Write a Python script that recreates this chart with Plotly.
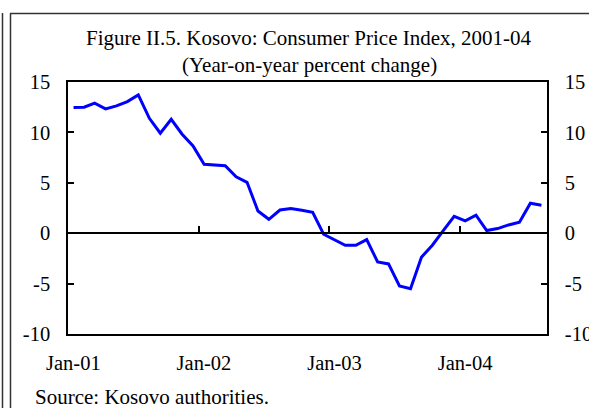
import plotly.graph_objects as go

# ---- data ----
months = [f"{y}-{m:02d}-01" for y in range(2001, 2005) for m in range(1, 13)][:44]
cpi_yoy = [12.46, 12.5, 12.9, 12.33, 12.63, 13.06, 13.72, 11.4, 9.92, 11.3, 9.82, 8.66,
           6.84, 6.8, 6.7, 5.6, 5.05, 2.2, 1.38, 2.3, 2.44, 2.28, 2.08, -0.1,
           -0.63, -1.2, -1.2, -0.63, -2.85, -3.05, -5.23, -5.5, -2.38, -1.19, 0.26, 1.68,
           1.22, 1.78, 0.26, 0.46, 0.82, 1.09, 2.97, 2.78]
year_ticks = ["2001-01-01", "2002-01-01", "2003-01-01", "2004-01-01"]
year_label_pos = ["2001-01-16", "2002-01-16", "2003-01-16", "2004-01-16"]
year_labels = ["Jan-01", "Jan-02", "Jan-03", "Jan-04"]
y_ticks = [-10, -5, 0, 5, 10, 15]
y_tick_labels = ["-10", "-5", "0", "5", "10", "15"]

W, H = 589, 408
L, R, T, B = 68, 547, 82, 334
FONT = "Liberation Serif"


def px(x):
    return (x - L) / (R - L)


def py(y):
    return (B - y) / (B - T)


xrange_ = ["2001-01-01", "2004-09-01"]
yrange_ = [-10, 15]

fig = go.Figure()
fig.add_trace(go.Scatter(x=months, y=cpi_yoy, mode="lines", xperiod="M1",
                         xperiodalignment="middle",
                         line=dict(color="#0000FF", width=3),
                         showlegend=False, hoverinfo="skip"))
# helper traces so that the overlay axes get drawn
fig.add_trace(go.Scatter(x=[], y=[], xaxis="x2", yaxis="y", showlegend=False, hoverinfo="skip"))
fig.add_trace(go.Scatter(x=[], y=[], xaxis="x", yaxis="y2", showlegend=False, hoverinfo="skip"))

axis_font = dict(family=FONT, size=20.5, color="black")

fig.update_layout(
    width=W, height=H,
    margin=dict(l=L, r=W - R, t=T, b=H - B, autoexpand=False),
    paper_bgcolor="white", plot_bgcolor="white",
    font=dict(family=FONT, color="black"),
    xaxis=dict(range=xrange_, type="date", showgrid=False, zeroline=False,
               showline=True, linecolor="black", linewidth=1.5, mirror=True,
               ticks="", tickvals=year_label_pos, ticktext=year_labels,
               tickfont=axis_font, ticklabelstandoff=10, automargin=False),
    xaxis2=dict(range=xrange_, type="date", overlaying="x", anchor="free",
                position=10 / 25, showgrid=False, zeroline=False,
                showline=True, linecolor="black", linewidth=1.5,
                ticks="inside", ticklen=6, tickwidth=1.5, tickcolor="black",
                tickvals=year_ticks, showticklabels=False, automargin=False),
    yaxis=dict(range=yrange_, showgrid=False, zeroline=False, showline=True,
               linecolor="black", linewidth=1.5, ticks="inside", ticklen=6,
               tickwidth=1.5, tickcolor="black", tickvals=y_ticks,
               ticktext=y_tick_labels, automargin=False,
               tickfont=axis_font, ticklabelstandoff=12),
    yaxis2=dict(range=yrange_, overlaying="y", side="right", anchor="x",
                showgrid=False, zeroline=False, showline=True,
                linecolor="black", linewidth=1.5, ticks="inside", ticklen=6,
                tickwidth=1.5, tickcolor="black", tickvals=y_ticks,
                ticktext=y_tick_labels, automargin=False,
                tickfont=axis_font, ticklabelstandoff=12),
    annotations=[
        dict(text="Figure II.5. Kosovo: Consumer Price Index, 2001-04",
             x=px(309), y=py(38), xref="paper", yref="paper",
             xanchor="center", yanchor="middle", showarrow=False,
             font=dict(family=FONT, size=21, color="black")),
        dict(text="(Year-on-year percent change)",
             x=px(309), y=py(65), xref="paper", yref="paper",
             xanchor="center", yanchor="middle", showarrow=False,
             font=dict(family=FONT, size=21, color="black")),
        dict(text="Source: Kosovo authorities.",
             x=px(33), y=py(397), xref="paper", yref="paper",
             xanchor="left", yanchor="middle", showarrow=False,
             font=dict(family=FONT, size=21, color="black")),
    ],
    shapes=[
        dict(type="line", xref="paper", yref="paper", x0=px(2.5), x1=px(2.5),
             y0=py(13), y1=py(410), line=dict(color="#333333", width=1.5)),
        dict(type="line", xref="paper", yref="paper", x0=px(10.5), x1=px(10.5),
             y0=py(13.5), y1=py(410), line=dict(color="#333333", width=1.5)),
        dict(type="line", xref="paper", yref="paper", x0=px(10), x1=px(592),
             y0=py(13.5), y1=py(13.5), line=dict(color="#333333", width=1.5)),
    ],
)

fig.write_html("out.html", config={"displayModeBar": False},
               post_script="document.body.style.margin='0';document.body.style.overflow='hidden';")
